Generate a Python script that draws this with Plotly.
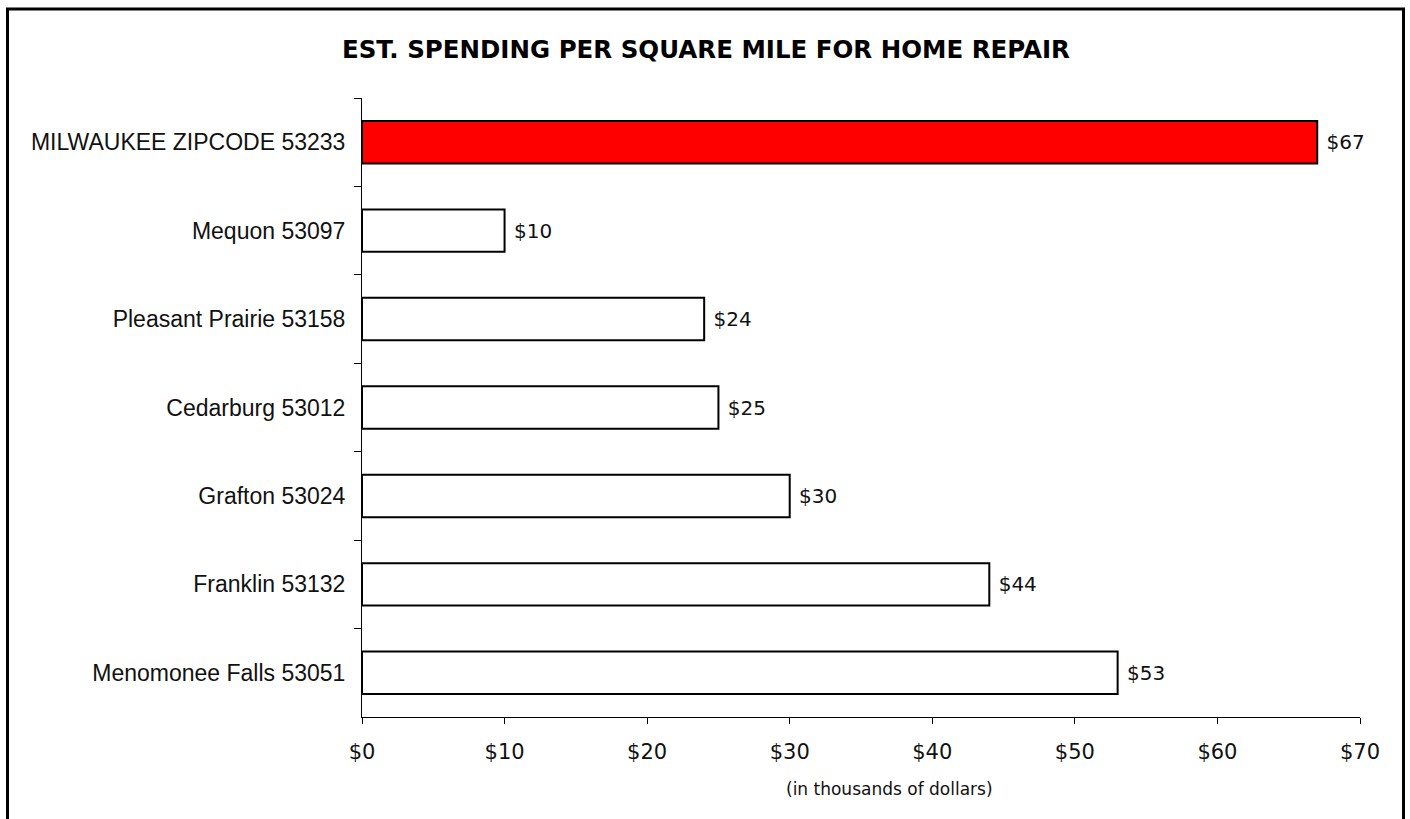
import plotly.graph_objects as go

title_text = "EST. SPENDING PER SQUARE MILE FOR HOME REPAIR"
categories = [
    "MILWAUKEE ZIPCODE 53233",
    "Mequon 53097",
    "Pleasant Prairie 53158",
    "Cedarburg 53012",
    "Grafton 53024",
    "Franklin 53132",
    "Menomonee Falls 53051",
]
values = [67, 10, 24, 25, 30, 44, 53]
fill_colors = ["#FF0000", "#FFFFFF", "#FFFFFF", "#FFFFFF", "#FFFFFF", "#FFFFFF", "#FFFFFF"]
x_title = "(in thousands of dollars)"
x_tick_values = [0, 10, 20, 30, 40, 50, 60, 70]
x_tick_labels = ["$0", "$10", "$20", "$30", "$40", "$50", "$60", "$70"]

W, H = 1410, 819
L, R, T, B = 362, 50, 98, 102
pw, ph = W - L - R, H - T - B


def px_x(px):
    return (px - L) / pw


def px_y(py):
    return (H - B - py) / ph


fig = go.Figure(
    go.Bar(
        x=values,
        y=categories,
        orientation="h",
        marker=dict(color=fill_colors, line=dict(color="black", width=2)),
        text=["\u00a0$" + str(v) for v in values],
        textposition="outside",
        textfont=dict(family="DejaVu Sans", size=20, color="#111111"),
        cliponaxis=False,
        hoverinfo="skip",
    )
)

fig.update_layout(
    width=W,
    height=H,
    margin=dict(l=L, r=R, t=T, b=B, pad=0),
    paper_bgcolor="white",
    plot_bgcolor="white",
    bargap=0.52,
    showlegend=False,
    title=dict(
        text="<b>" + title_text + "</b>",
        x=(px_x(706) * pw + L) / W,
        xanchor="center",
        y=1 - 49 / H,
        yanchor="middle",
        font=dict(family="DejaVu Sans", size=24.5, color="black"),
    ),
    shapes=[
        dict(
            type="rect",
            xref="paper",
            yref="paper",
            x0=px_x(7.5),
            x1=px_x(1403.5),
            y0=px_y(950),
            y1=px_y(9),
            line=dict(color="black", width=3),
            fillcolor="rgba(0,0,0,0)",
            layer="below",
        )
    ],
    annotations=[
        dict(
            text=x_title,
            xref="paper",
            yref="paper",
            x=px_x(889),
            y=px_y(789),
            xanchor="center",
            yanchor="middle",
            showarrow=False,
            font=dict(family="DejaVu Sans", size=17, color="#111111"),
        )
    ],
)

fig.update_xaxes(
    range=[0, 70],
    tickvals=x_tick_values,
    ticktext=x_tick_labels,
    ticks="outside",
    ticklen=6,
    tickwidth=1,
    tickcolor="black",
    showline=True,
    linecolor="black",
    linewidth=1,
    showgrid=False,
    zeroline=False,
    tickfont=dict(family="DejaVu Sans", size=21, color="#111111"),
    ticklabelstandoff=10,
)

fig.update_yaxes(
    autorange="reversed",
    tickson="boundaries",
    ticks="outside",
    ticklen=7,
    tickwidth=1,
    tickcolor="black",
    showline=True,
    linecolor="black",
    linewidth=1,
    showgrid=False,
    zeroline=False,
    tickfont=dict(family="Liberation Sans", size=23, color="#111111"),
    ticklabelstandoff=11,
)

fig.write_html(
    "out.html",
    config={"displayModeBar": False},
    post_script="document.body.style.margin='0';",
)
